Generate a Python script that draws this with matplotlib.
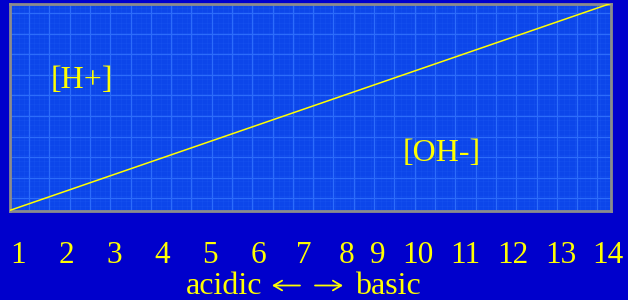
import numpy as np
import matplotlib
matplotlib.use("Agg")
import matplotlib.pyplot as plt
from matplotlib.patches import FancyArrowPatch

# ---- dados ----
ph_labels = ["1", "2", "3", "4", "5", "6", "7", "8", "9", "10", "11", "12", "13", "14"]
line_x = [0.0, 1.0]          # fracao do painel
line_y = [0.0, 1.0]          # [H+] -> [OH-]
region_labels = ["[H+]", "[OH-]"]
caption_left, caption_right = "acidic", "basic"

# ---- layout (pixels) ----
W, H = 628, 300
ph_xpix = [18, 66, 114, 162, 210, 258, 304, 347, 378, 418, 465, 513, 561, 608]
BG = "#0000cc"
PANEL = "#0c46ea"
GRID = "#2c6cfb"
YEL = "#ffff00"
FONT = ["Liberation Serif", "DejaVu Serif"]

fig = plt.figure(figsize=(W / 100, H / 100), dpi=100, facecolor=BG)

# painel
x0, x1, ytop, ybot = 9.5, 610.5, 3.5, 210.5
ax = fig.add_axes([x0 / W, 1 - ybot / H, (x1 - x0) / W, (ybot - ytop) / H])
ax.set_facecolor(PANEL)
ax.set_xlim(0, 1)
ax.set_ylim(0, 1)
ax.set_xticks([])
ax.set_yticks([])
for s in ax.spines.values():
    s.set_color("#8c8c8c")
    s.set_linewidth(2.0)

# textura de grade
pw, ph = x1 - x0, ybot - ytop
for gx in np.arange(19.5, pw, 20.3):
    ax.axvline(gx / pw, color=GRID, lw=0.9, zorder=1)
for gy in np.arange(9.5, ph, 20.6):
    ax.axhline(1 - gy / ph, color=GRID, lw=0.9, zorder=1)
for gx in np.arange(4, pw, 5.1):
    ax.axvline(gx / pw, color="#3a78ff", lw=0.5, alpha=0.15, zorder=0.5)
for gy in np.arange(4, ph, 5.1):
    ax.axhline(1 - gy / ph, color="#3a78ff", lw=0.5, alpha=0.15, zorder=0.5)

ax.plot(line_x, line_y, color=YEL, lw=1.1, zorder=3, solid_capstyle="butt")

ax.text(0.120, 0.630, region_labels[0], color=YEL, fontsize=23, family=FONT,
        ha="center", va="center", zorder=4)
ax.text(0.719, 0.275, region_labels[1], color=YEL, fontsize=23, family=FONT,
        ha="center", va="center", zorder=4)

# escala de pH
for lab, xp in zip(ph_labels, ph_xpix):
    fig.text(xp / W, 1 - 263 / H, lab, color=YEL, fontsize=22.5, family=FONT,
             ha="center", va="baseline")
yb = 1 - 294 / H
fig.text(262 / W, yb, caption_left, color=YEL, fontsize=23, family=FONT,
         ha="right", va="baseline")
fig.text(355 / W, yb, caption_right, color=YEL, fontsize=23, family=FONT,
         ha="left", va="baseline")
# setas longas
ya = 1 - 285.5 / H
for xa, xb in [(300, 272), (315, 343)]:
    fig.add_artist(FancyArrowPatch(
        (xa / W, ya), (xb / W, ya), transform=fig.transFigure,
        arrowstyle="->,head_length=6,head_width=3.5", color=YEL, lw=1.3,
        mutation_scale=1, shrinkA=0, shrinkB=0))

fig.savefig("out.png", dpi=100, facecolor=BG)
